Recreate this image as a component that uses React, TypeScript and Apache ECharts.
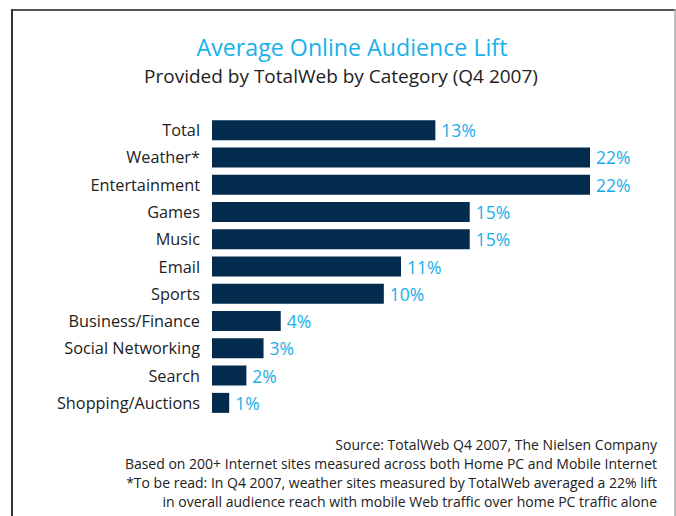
import React, { useEffect, useRef } from "react";
import * as echarts from "echarts";

const categories = [
  "Total",
  "Weather*",
  "Entertainment",
  "Games",
  "Music",
  "Email",
  "Sports",
  "Business/Finance",
  "Social Networking",
  "Search",
  "Shopping/Auctions",
];
const values = [13, 22, 22, 15, 15, 11, 10, 4, 3, 2, 1];

const titleText = "Average Online Audience Lift";
const subtitleText = "Provided by TotalWeb by Category (Q4 2007)";
const footnotes = [
  "Source: TotalWeb Q4 2007, The Nielsen Company",
  "Based on 200+ Internet sites measured across both Home PC and Mobile Internet",
  "*To be read: In Q4 2007, weather sites measured by TotalWeb averaged a 22% lift",
  "in overall audience reach with mobile Web traffic over home PC traffic alone",
];

const FONT = "'Open Sans', 'Noto Sans', sans-serif";

export default function App() {
  const ref = useRef<HTMLDivElement>(null);
  useEffect(() => {
    if (!ref.current) return;
    const chart = echarts.init(ref.current, undefined, { renderer: "svg" });
    chart.setOption({
      animation: false,
      backgroundColor: "#ffffff",
      textStyle: { fontFamily: FONT },
      grid: { left: 212, right: 86, top: 116.5, height: 300, containLabel: false },
      xAxis: {
        type: "value",
        min: 0,
        max: 22,
        show: false,
      },
      yAxis: {
        type: "category",
        data: categories,
        inverse: true,
        axisLine: { show: false },
        axisTick: { show: false },
        axisLabel: { color: "#222222", fontSize: 16.3, margin: 12, fontFamily: FONT },
      },
      series: [
        {
          type: "bar",
          data: values,
          barWidth: 20,
          itemStyle: { color: "#032b4e" },
          label: {
            show: true,
            position: "right",
            distance: 6,
            formatter: "{c}%",
            color: "#1aaee8",
            fontSize: 17.5,
            fontFamily: FONT,
          },
        },
      ],
      graphic: [
        { type: "line", shape: { x1: 11, y1: 10, x2: 676, y2: 10 }, style: { stroke: "#555555", lineWidth: 2 } },
        { type: "line", shape: { x1: 12, y1: 9, x2: 12, y2: 516 }, style: { stroke: "#333333", lineWidth: 2 } },
        { type: "line", shape: { x1: 675, y1: 9, x2: 675, y2: 516 }, style: { stroke: "#aaaaaa", lineWidth: 1.5 } },
        {
          type: "text",
          x: 352,
          y: 47,
          style: {
            text: titleText,
            fill: "#1ab0e9",
            fontSize: 23.2,
            fontFamily: FONT,
            textAlign: "center",
            textVerticalAlign: "middle",
          },
        },
        {
          type: "text",
          x: 341,
          y: 76,
          style: {
            text: subtitleText,
            fill: "#222222",
            fontSize: 19,
            fontFamily: FONT,
            textAlign: "center",
            textVerticalAlign: "middle",
          },
        },
        ...footnotes.map((t, i) => ({
          type: "text",
          x: 657,
          y: 444 + i * 19,
          style: {
            text: t,
            fill: "#222222",
            fontSize: 14,
            fontFamily: FONT,
            textAlign: "right",
            textVerticalAlign: "middle",
          },
        })),
      ],
    });
    return () => chart.dispose();
  }, []);
  return <div ref={ref} style={{ width: 676, height: 516, position: "fixed", left: 0, top: 0 }} />;
}
